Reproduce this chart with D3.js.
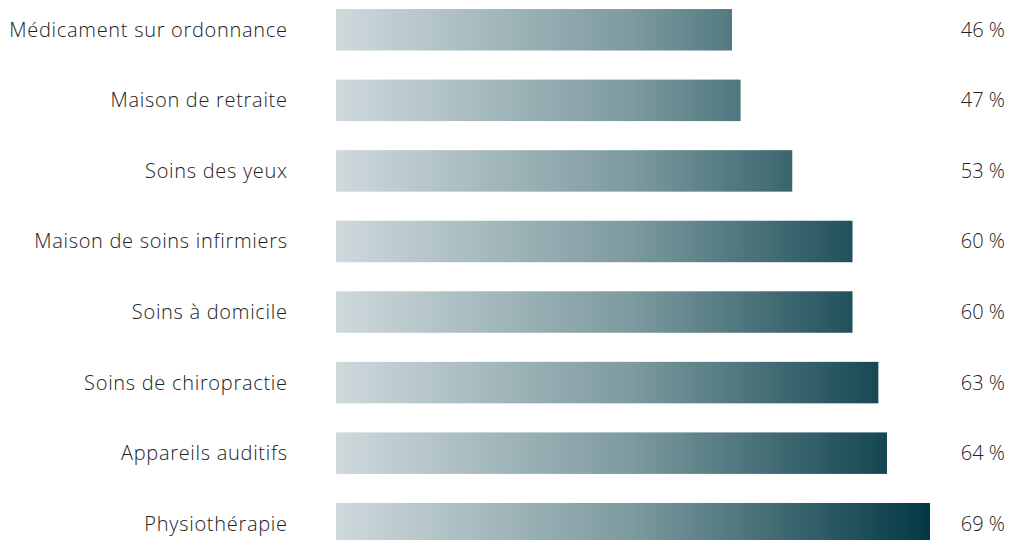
<!DOCTYPE html>
<html>
<head>
<meta charset="utf-8">
<script src="https://cdn.jsdelivr.net/npm/d3@7"></script>
<style>
  body { margin: 0; background: #fff; }
  svg text { font-family: "Open Sans", "Lato", sans-serif; font-weight: 300; fill: #222; }
</style>
</head>
<body>
<div id="chart"></div>
<script>
const width = 1010;
const height = 540;

const categories = [
    "Médicament sur ordonnance",
    "Maison de retraite",
    "Soins des yeux",
    "Maison de soins infirmiers",
    "Soins à domicile",
    "Soins de chiropractie",
    "Appareils auditifs",
    "Physiothérapie"
];
const values = [46, 47, 53, 60, 60, 63, 64, 69];

const svg = d3.select("#chart")
    .append("svg")
    .attr("width", width)
    .attr("height", height);

const x = d3.scaleLinear()
    .domain([0, 69])
    .range([336, 930]);

const y = d3.scaleBand()
    .domain(categories)
    .range([-5.5, 559])
    .paddingInner(0.412)
    .paddingOuter(0.206);

const grad = svg.append("defs").append("linearGradient")
    .attr("id", "barGrad")
    .attr("gradientUnits", "userSpaceOnUse")
    .attr("x1", x(0)).attr("x2", x(d3.max(values)))
    .attr("y1", 0).attr("y2", 0);
grad.append("stop").attr("offset", "0%").attr("stop-color", "#cfd9dc");
grad.append("stop").attr("offset", "50%").attr("stop-color", "#7c9a9f");
grad.append("stop").attr("offset", "100%").attr("stop-color", "#023844");

const rows = categories.map((c, i) => ({ name: c, value: values[i] }));

svg.selectAll("rect.bar")
    .data(rows)
    .enter()
    .append("rect")
    .attr("class", "bar")
    .attr("x", x(0))
    .attr("y", d => y(d.name))
    .attr("width", d => x(d.value) - x(0))
    .attr("height", y.bandwidth())
    .attr("fill", "url(#barGrad)");

svg.selectAll("text.label")
    .data(rows)
    .enter()
    .append("text")
    .attr("class", "label")
    .attr("x", 287.7)
    .attr("y", d => y(d.name) + y.bandwidth() / 2)
    .attr("dy", "0.35em")
    .attr("text-anchor", "end")
    .attr("font-size", 20)
    .attr("letter-spacing", "0.7px")
    .text(d => d.name);

svg.selectAll("text.value")
    .data(rows)
    .enter()
    .append("text")
    .attr("class", "value")
    .attr("x", 1005)
    .attr("y", d => y(d.name) + y.bandwidth() / 2)
    .attr("dy", "0.35em")
    .attr("text-anchor", "end")
    .attr("font-size", 20)
    .text(d => d.value + " %");
</script>
</body>
</html>
